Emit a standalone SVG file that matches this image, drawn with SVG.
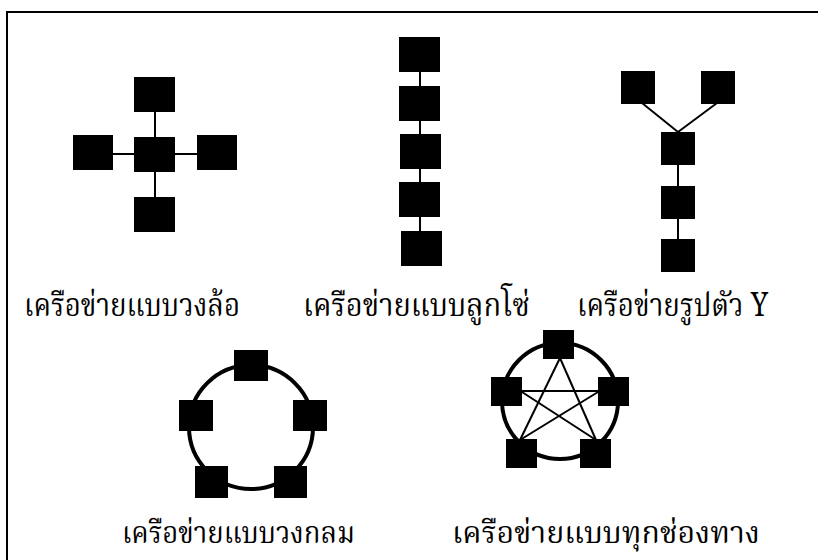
<svg xmlns="http://www.w3.org/2000/svg" width="818" height="560" viewBox="0 0 818 560">
<style>
.n{fill:#000}
.c line{stroke:#000;stroke-width:2}
.ring{fill:none;stroke:#000;stroke-width:4}
.t{font-family:"Noto Serif Thai","Noto Sans Thai","Liberation Serif","DejaVu Serif",serif;font-size:32px;fill:#000}
.b{font-size:30px}
</style>
<rect width="818" height="560" fill="#fff"/>
<path d="M7 560 V12 H820" fill="none" stroke="#000" stroke-width="2"/>

<g class="c" id="connectors">
  <line x1="155" y1="112" x2="155" y2="197"/>
  <line x1="112" y1="154" x2="197" y2="154"/>
  <line x1="420" y1="72" x2="420" y2="231"/>
  <line x1="642" y1="103" x2="678" y2="132"/>
  <line x1="717" y1="103" x2="678" y2="132"/>
  <line x1="678" y1="164" x2="678" y2="240"/>
  <line x1="560" y1="358" x2="520" y2="440"/>
  <line x1="560" y1="358" x2="596" y2="440"/>
  <line x1="522" y1="391" x2="598" y2="391"/>
  <line x1="522" y1="392" x2="596" y2="440"/>
  <line x1="598" y1="392" x2="520" y2="440"/>
</g>
<circle class="ring" cx="251" cy="427" r="62"/>
<circle class="ring" cx="560" cy="401" r="58"/>

<g id="wheel">
  <rect class="n" x="134" y="77" width="41" height="35"/>
  <rect class="n" x="134" y="137" width="41" height="35"/>
  <rect class="n" x="73" y="135" width="40" height="35"/>
  <rect class="n" x="197" y="135" width="40" height="35"/>
  <rect class="n" x="134" y="197" width="41" height="35"/>
</g>
<g id="chain">
  <rect class="n" x="399" y="37" width="41" height="35"/>
  <rect class="n" x="399" y="86" width="41" height="35"/>
  <rect class="n" x="400" y="134" width="41" height="35"/>
  <rect class="n" x="399" y="182" width="41" height="35"/>
  <rect class="n" x="401" y="231" width="41" height="35"/>
</g>
<g id="ytree">
  <rect class="n" x="621" y="71" width="34" height="33"/>
  <rect class="n" x="701" y="71" width="34" height="33"/>
  <rect class="n" x="661" y="132" width="34" height="33"/>
  <rect class="n" x="661" y="186" width="34" height="33"/>
  <rect class="n" x="661" y="239" width="34" height="33"/>
</g>
<g id="ring">
  <rect class="n" x="234" y="350" width="34" height="31"/>
  <rect class="n" x="179" y="400" width="34" height="31"/>
  <rect class="n" x="293" y="400" width="34" height="31"/>
  <rect class="n" x="195" y="466" width="33" height="32"/>
  <rect class="n" x="274" y="466" width="33" height="32"/>
</g>
<g id="mesh">
  <rect class="n" x="543" y="330" width="31" height="29"/>
  <rect class="n" x="491" y="377" width="31" height="29"/>
  <rect class="n" x="598" y="377" width="31" height="29"/>
  <rect class="n" x="506" y="439" width="31" height="29"/>
  <rect class="n" x="580" y="439" width="31" height="29"/>
</g>

<g id="labels">
  <text class="t" x="24" y="316" textLength="216" lengthAdjust="spacingAndGlyphs">เครือข่ายแบบวงล้อ</text>
  <text class="t" x="303" y="316" textLength="227" lengthAdjust="spacingAndGlyphs">เครือข่ายแบบลูกโซ่</text>
  <text class="t" x="577" y="316" textLength="191" lengthAdjust="spacingAndGlyphs">เครือข่ายรูปตัว Y</text>
  <text class="t b" x="122" y="543" textLength="233" lengthAdjust="spacingAndGlyphs">เครือข่ายแบบวงกลม</text>
  <text class="t b" x="452" y="543" textLength="308" lengthAdjust="spacingAndGlyphs">เครือข่ายแบบทุกช่องทาง</text>
</g>
</svg>
